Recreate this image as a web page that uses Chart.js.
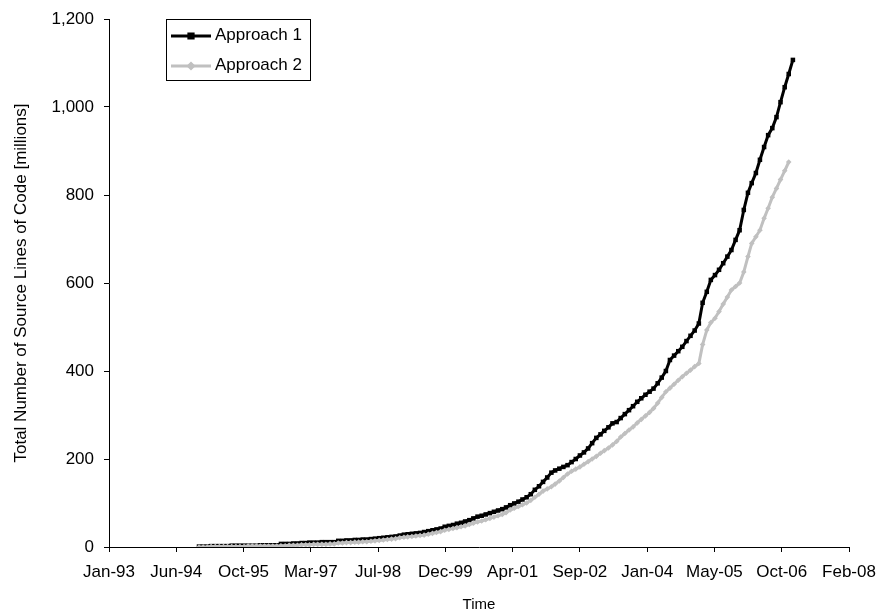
<!DOCTYPE html>
<html>
<head>
<meta charset="utf-8">
<script src="https://cdn.jsdelivr.net/npm/chart.js@4.4.1/dist/chart.umd.min.js"></script>
<style>
  html, body { margin: 0; padding: 0; background: #ffffff; }
  #wrap { width: 878px; height: 615px; }
</style>
</head>
<body>
<div id="wrap"><canvas id="c" width="878" height="615"></canvas></div>
<script>
// Monthly observation dates (categories)
const months = [
  '1994-12',
  '1995-01','1995-02','1995-03','1995-04','1995-05','1995-06','1995-07','1995-08','1995-09','1995-10','1995-11','1995-12',
  '1996-01','1996-02','1996-03','1996-04','1996-05','1996-06','1996-07','1996-08','1996-09','1996-10','1996-11','1996-12',
  '1997-01','1997-02','1997-03','1997-04','1997-05','1997-06','1997-07','1997-08','1997-09','1997-10','1997-11','1997-12',
  '1998-01','1998-02','1998-03','1998-04','1998-05','1998-06','1998-07','1998-08','1998-09','1998-10','1998-11','1998-12',
  '1999-01','1999-02','1999-03','1999-04','1999-05','1999-06','1999-07','1999-08','1999-09','1999-10','1999-11','1999-12',
  '2000-01','2000-02','2000-03','2000-04','2000-05','2000-06','2000-07','2000-08','2000-09','2000-10','2000-11','2000-12',
  '2001-01','2001-02','2001-03','2001-04','2001-05','2001-06','2001-07','2001-08','2001-09','2001-10','2001-11','2001-12',
  '2002-01','2002-02','2002-03','2002-04','2002-05','2002-06','2002-07','2002-08','2002-09','2002-10','2002-11','2002-12',
  '2003-01','2003-02','2003-03','2003-04','2003-05','2003-06','2003-07','2003-08','2003-09','2003-10','2003-11','2003-12',
  '2004-01','2004-02','2004-03','2004-04','2004-05','2004-06','2004-07','2004-08','2004-09','2004-10','2004-11','2004-12',
  '2005-01','2005-02','2005-03','2005-04','2005-05','2005-06','2005-07','2005-08','2005-09','2005-10','2005-11','2005-12',
  '2006-01','2006-02','2006-03','2006-04','2006-05','2006-06','2006-07','2006-08','2006-09','2006-10','2006-11','2006-12',
  '2007-01'
];

// Approach 1 (millions of SLOC)
const approach1 = [
  1,1,1,2,2,2,2,2,3,3,3,3,3,
  3,3,4,4,4,4,4,7,7,7,8,8,
  9,9,10,10,10,11,11,11,11,14,14,15,
  15,16,16,17,17,18,19,20,21,22,23,24,
  26,28,29,30,31,32,34,36,38,40,42,46,
  48,50,53,55,58,61,65,69,71,74,77,80,
  83,86,90,95,99,103,108,113,120,130,138,148,
  158,169,174,178,182,186,193,200,208,215,224,236,
  248,256,264,272,281,284,293,302,311,320,330,338,
  346,353,360,372,385,400,425,435,445,455,468,480,
  492,508,555,580,607,618,630,645,660,675,698,720,
  766,805,827,850,880,909,936,952,977,1011,1045,1075,
  1107
];

// Approach 2 (millions of SLOC)
const approach2 = [
  0,0,0,1,1,1,1,1,1,1,1,1,2,
  2,2,2,2,2,2,2,3,3,4,4,4,
  5,5,5,6,6,6,6,7,7,9,9,10,
  10,11,11,12,12,13,14,15,16,17,18,19,
  21,22,23,24,25,26,27,29,31,33,35,38,
  40,42,44,46,48,51,54,57,59,62,65,68,
  71,74,78,84,88,92,96,100,106,113,120,127,
  132,137,143,150,158,166,172,177,182,188,194,200,
  206,213,219,225,232,240,250,258,266,273,282,290,
  298,306,315,327,340,353,361,370,379,387,395,402,
  410,417,460,493,510,520,535,552,568,584,592,600,
  625,660,690,705,720,747,770,795,815,835,855,875
];

// Axis tick values: Excel date serials (Jan-93 ... Feb-08 every 500 days)
const xTickMin = 34000, xTickMax = 39500, xTickStep = 500;
const yTickMin = 0, yTickMax = 1200, yTickStep = 200;
const seriesNames = ['Approach 1', 'Approach 2'];

const MON = ['Jan','Feb','Mar','Apr','May','Jun','Jul','Aug','Sep','Oct','Nov','Dec'];
function monthToSerial(s) {
  const [y, m] = s.split('-').map(Number);
  return Date.UTC(y, m - 1, 1) / 86400000 + 25569;
}
function serialToLabel(v) {
  const d = new Date((v - 25569) * 86400000);
  return MON[d.getUTCMonth()] + '-' + String(d.getUTCFullYear()).slice(2);
}
function toPoints(vals) {
  return vals.map((v, i) => ({ x: monthToSerial(months[i]), y: v }));
}

const FONT = 'Liberation Sans, Arial, sans-serif';

const legendPlugin = {
  id: 'boxLegend',
  afterDraw(chart) {
    const ctx = chart.ctx;
    ctx.save();
    ctx.fillStyle = '#ffffff';
    ctx.fillRect(166, 19, 144, 61);
    ctx.strokeStyle = '#000000';
    ctx.lineWidth = 1;
    ctx.strokeRect(166.5, 19.5, 144, 61);
    const rows = [
      { y: 36, ty: 35, color: '#000000', style: 'rect', r: 3, name: seriesNames[0] },
      { y: 66, ty: 65, color: '#c0c0c0', style: 'rectRot', r: 2.5, name: seriesNames[1] }
    ];
    rows.forEach(rw => {
      ctx.strokeStyle = rw.color;
      ctx.lineWidth = 3;
      ctx.beginPath();
      ctx.moveTo(171, rw.y);
      ctx.lineTo(211, rw.y);
      ctx.stroke();
      ctx.fillStyle = rw.color;
      Chart.helpers.drawPoint(ctx, { pointStyle: rw.style, radius: rw.r, borderWidth: 1 }, 191, rw.y);
      ctx.fill();
      ctx.fillStyle = '#000000';
      ctx.font = '17px ' + FONT;
      ctx.textBaseline = 'middle';
      ctx.textAlign = 'left';
      ctx.fillText(rw.name, 215, rw.ty);
    });
    ctx.restore();
  }
};

new Chart(document.getElementById('c'), {
  type: 'line',
  data: {
    datasets: [
      {
        label: seriesNames[0],
        data: toPoints(approach1),
        borderColor: '#000000',
        backgroundColor: '#000000',
        borderWidth: 3,
        pointStyle: 'rect',
        pointRadius: 3.2,
        pointBorderWidth: 0,
        pointBackgroundColor: '#000000',
        tension: 0,
        order: 1
      },
      {
        label: seriesNames[1],
        data: toPoints(approach2),
        borderColor: '#c0c0c0',
        backgroundColor: '#c0c0c0',
        borderWidth: 3,
        pointStyle: 'rectRot',
        pointRadius: 2.8,
        pointBorderWidth: 0,
        pointBackgroundColor: '#c0c0c0',
        tension: 0,
        order: 0
      }
    ]
  },
  options: {
    responsive: false,
    animation: false,
    events: [],
    layout: { padding: { left: 0, right: 29, top: 19, bottom: 0 } },
    plugins: { legend: { display: false }, tooltip: { enabled: false } },
    scales: {
      x: {
        type: 'linear',
        min: xTickMin,
        max: xTickMax,
        afterFit(scale) { scale.height = 68; scale.paddingLeft = 0; scale.paddingRight = 0; },
        ticks: {
          stepSize: xTickStep,
          autoSkip: false,
          maxRotation: 0,
          padding: 10,
          color: '#000000',
          font: { family: FONT, size: 17 },
          callback: v => serialToLabel(v)
        },
        grid: { drawOnChartArea: false, drawTicks: true, tickLength: 5, color: '#000000', lineWidth: 1 },
        border: { display: true, color: '#000000', width: 1 },
        title: { display: true, text: 'Time', color: '#000000', font: { family: FONT, size: 15 }, padding: { top: 0, bottom: 1 } }
      },
      y: {
        type: 'linear',
        min: yTickMin,
        max: yTickMax,
        afterFit(scale) { scale.width = 109; scale.paddingTop = 0; scale.paddingBottom = 0; },
        ticks: {
          stepSize: yTickStep,
          padding: 10,
          color: '#000000',
          font: { family: FONT, size: 17 },
          callback: v => v.toLocaleString('en-US')
        },
        grid: { drawOnChartArea: false, drawTicks: true, tickLength: 5, color: '#000000', lineWidth: 1 },
        border: { display: true, color: '#000000', width: 1 },
        title: { display: true, text: 'Total Number of Source Lines of Code [millions]', color: '#000000', font: { family: FONT, size: 17 }, padding: { top: 11, bottom: 0 } }
      }
    }
  },
  plugins: [legendPlugin]
});
</script>
</body>
</html>
